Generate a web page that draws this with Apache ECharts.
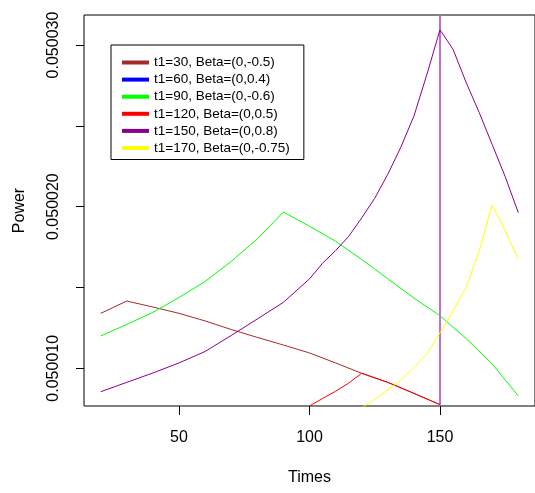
<!DOCTYPE html>
<html>
<head>
<meta charset="utf-8">
<script src="https://cdn.jsdelivr.net/npm/echarts@6/dist/echarts.min.js"></script>
<style>html,body{margin:0;padding:0;background:#fff}#c{width:535px;height:493px}</style>
</head>
<body>
<div id="c"></div>
<script>
// ---- data ----
var seriesNames = ['t1=30, Beta=(0,-0.5)','t1=60, Beta=(0,0.4)','t1=90, Beta=(0,-0.6)','t1=120, Beta=(0,0.5)','t1=150, Beta=(0,0.8)','t1=170, Beta=(0,-0.75)'];
var seriesColors = ['#A52A2A','#0000FF','#00FF00','#FF0000','#8B008B','#FFFF00'];

var timesT30  = [20,30,40,50,60,70,80,90,100,110,120,130,140,150];
var powerT30  = [0.0500134,0.05001416,0.05001379,0.0500134,0.05001293,0.0500124,0.05001191,0.05001144,0.05001095,0.05001033,0.05000969,0.05000913,0.05000845,0.05000775];

var timesT60  = [];
var powerT60  = [];

var timesT90  = [20,30,40,50,60,70,80,90,100,110,120,130,140,150,160,170,180];
var powerT90  = [0.05001200,0.05001271,0.05001346,0.05001438,0.05001537,0.05001661,0.05001800,0.05001967,0.05001879,0.05001786,0.05001673,0.05001554,0.05001435,0.05001325,0.05001184,0.05001027,0.05000829];

var timesT120 = [100,105,110,115,120,130,140,150];
var powerT120 = [0.05000767,0.05000813,0.05000858,0.05000908,0.05000969,0.05000913,0.05000845,0.05000775];

var timesT150 = [20,30,40,50,60,70,80,90,100,105,110,115,120,125,130,135,140,145,150,155,160,165,170,175,180];
var powerT150 = [0.05000855,0.05000913,0.05000971,0.05001033,0.05001104,0.05001203,0.05001305,0.05001408,0.05001553,0.05001650,0.05001728,0.05001816,0.05001930,0.05002052,0.05002200,0.05002368,0.05002560,0.05002819,0.05003094,0.05002973,0.05002769,0.05002583,0.05002384,0.05002185,0.05001963];

var timesT170 = [120,125,130,135,140,145,150,155,160,165,170,175,180];
var powerT170 = [0.05000756,0.05000807,0.05000866,0.05000927,0.05001005,0.05001088,0.05001220,0.05001355,0.05001500,0.05001724,0.05002011,0.05001850,0.05001675];

var seriesTimes  = [timesT30,timesT60,timesT90,timesT120,timesT150,timesT170];
var seriesValues = [powerT30,powerT60,powerT90,powerT120,powerT150,powerT170];

var xTicks = [50,100,150];
var yTicks = [0.050010,0.050015,0.050020,0.050025,0.050030];
var yLabels = [0.050010,0.050020,0.050030];
var xRange = [13.6,186.4];
var yRange = [0.0500076667,0.0500318566];
var vlineX = 150;

var FONT = "'Liberation Sans', Arial, sans-serif";
var chart = echarts.init(document.getElementById('c'), null, {renderer:'canvas'});

var series = seriesNames.map(function(name, i){
  return {
    name: name,
    type: 'line',
    data: seriesValues[i].map(function(v, j){ return [seriesTimes[i][j], v]; }),
    showSymbol: false,
    symbol: 'none',
    clip: true,
    lineStyle: {color: seriesColors[i], width: 1},
    itemStyle: {color: seriesColors[i]},
    animation: false,
    z: 2 + i
  };
});
series[4].markLine = {
  silent: true,
  symbol: ['none','none'],
  label: {show: false},
  lineStyle: {color: '#C070C8', width: 2, type: 'solid'},
  data: [{xAxis: vlineX}],
  animation: false
};

chart.setOption({
  animation: false,
  backgroundColor: '#fff',
  grid: {left: 84, right: -2, top: 15, bottom: 87, show: true, borderColor: '#000', borderWidth: 1, backgroundColor: 'transparent'},
  legend: {
    orient: 'vertical',
    left: 111, top: 45,
    padding: [9, 14, 3, 11],
    borderColor: '#000', borderWidth: 1,
    backgroundColor: '#fff',
    itemWidth: 27, itemHeight: 4, itemGap: 0.1,
    icon: 'rect',
    textStyle: {fontFamily: FONT, fontSize: 13.5, color: '#000', lineHeight: 17},
    data: seriesNames.map(function(n){ return {name: n, icon: 'rect'}; })
  },
  xAxis: {
    type: 'value', min: xRange[0], max: xRange[1],
    name: 'Times', nameLocation: 'middle', nameGap: 64,
    nameTextStyle: {fontFamily: FONT, fontSize: 16, color: '#000'},
    axisLine: {show: false},
    axisTick: {show: true, length: 9, customValues: xTicks, lineStyle: {color: '#000'}},
    axisLabel: {fontFamily: FONT, fontSize: 16, color: '#000', margin: 24, customValues: xTicks},
    splitLine: {show: false}
  },
  yAxis: {
    type: 'value', min: yRange[0], max: yRange[1], scale: true,
    name: 'Power', nameLocation: 'middle', nameGap: 56,
    nameTextStyle: {fontFamily: FONT, fontSize: 16, color: '#000'},
    axisLine: {show: false},
    axisTick: {show: true, length: 8, customValues: yTicks, lineStyle: {color: '#000'}},
    axisLabel: {fontFamily: FONT, fontSize: 16, color: '#000', margin: 22, rotate: 90,
      customValues: yLabels, formatter: function(v){ return v.toFixed(6); }},
    splitLine: {show: false}
  },
  series: series
});
</script>
</body>
</html>
